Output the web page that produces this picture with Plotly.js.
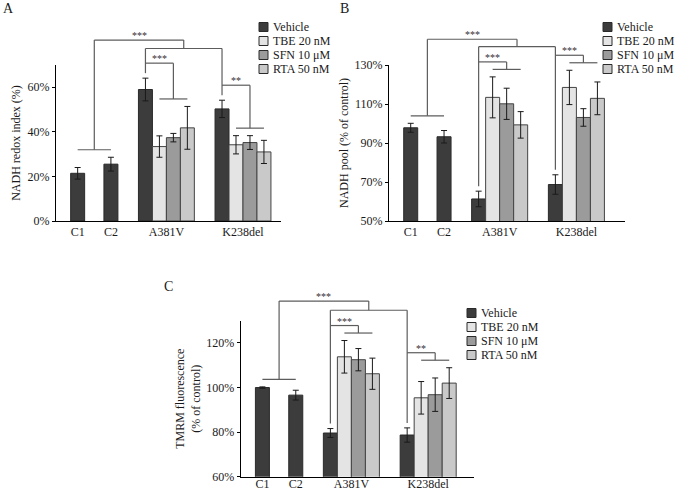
<!DOCTYPE html>
<html><head><meta charset="utf-8">
<script src="https://cdn.plot.ly/plotly-3.0.1.min.js"></script>
<style>html,body{margin:0;padding:0;background:#fff}</style>
</head><body><div id="chart" style="width:675px;height:493px"></div>
<script>
// ---------------- DATA ----------------
const groups = ['C1', 'C2', 'A381V', 'K238del'];
const treatments = ['Vehicle', 'TBE 20 nM', 'SFN 10 μM', 'RTA 50 nM'];

// Panel A – NADH redox index (%)
// vehicle: C1, C2, A381V, K238del ; treatments: A381V, K238del
const redoxVehicle    = [21.4, 25.5, 59.0, 50.3];
const redoxVehicleErr = [2.6, 3.1, 5.1, 3.9];
const redoxTBE        = [33.4, 34.2];
const redoxTBEErr     = [4.8, 4.1];
const redoxSFN        = [37.4, 35.2];
const redoxSFNErr     = [1.9, 3.1];
const redoxRTA        = [41.8, 31.0];
const redoxRTAErr     = [9.6, 5.2];
const redoxTicks      = [0, 20, 40, 60];

// Panel B – NADH pool (% of control)
const poolVehicle    = [97.8, 93.2, 61.3, 68.7];
const poolVehicleErr = [2.3, 3.2, 4.0, 5.0];
const poolTBE        = [113.4, 118.5];
const poolTBEErr     = [10.5, 8.8];
const poolSFN        = [110.1, 103.1];
const poolSFNErr     = [8.0, 4.5];
const poolRTA        = [99.3, 112.9];
const poolRTAErr     = [6.8, 8.4];
const poolTicks      = [50, 70, 90, 110, 130];

// Panel C – TMRM fluorescence (% of control)
const tmrmVehicle    = [100.0, 96.6, 79.6, 78.7];
const tmrmVehicleErr = [0.3, 2.2, 2.0, 3.2];
const tmrmTBE        = [113.8, 95.4];
const tmrmTBEErr     = [7.3, 7.3];
const tmrmSFN        = [112.5, 96.8];
const tmrmSFNErr     = [5.0, 7.5];
const tmrmRTA        = [106.2, 102.0];
const tmrmRTAErr     = [7.0, 6.9];
const tmrmTicks      = [60, 80, 100, 120];

// significance labels: [controls vs mutants, A381V vehicle vs treated, K238del vehicle vs treated]
const sigRedox = ['***', '***', '**'];
const sigPool  = ['***', '***', '***'];
const sigTmrm  = ['***', '***', '**'];

// ---------------- STYLE / LAYOUT ----------------
const W = 675, H = 493;
const FONT = 'Liberation Serif, "Times New Roman", serif';
const barColors = ['#3c3c3c', '#e4e4e4', '#9b9b9b', '#c9c9c9'];
const bracketColor = '#5c5c5c';
const groupPos = [1.55, 3.93, 6.4, 11.88];   // bar-centre slots (units of one bar width)

const panels = [
  { letter: 'A', ax: '', px: [56, 281], py: [65, 221], xmax: 16.1, yr: [0, 70], yticks: redoxTicks,
    title: 'NADH redox index (%)', standoff: 4, legend: [259, 27], letterPos: [8, 8], xlabOff: 0,
    top: 81.2, mid: 77.4, sig: sigRedox,
    veh: redoxVehicle, vehErr: redoxVehicleErr,
    trt: [[redoxTBE, redoxTBEErr], [redoxSFN, redoxSFNErr], [redoxRTA, redoxRTAErr]] },
  { letter: 'B', ax: '2', px: [389, 625], py: [65, 221], xmax: 16.85, yr: [50, 130], yticks: poolTicks,
    title: 'NADH pool (% of control)', standoff: 3, legend: [603, 27], letterPos: [344, 8], xlabOff: 0,
    top: 143.2, mid: 139.4, sig: sigPool,
    veh: poolVehicle, vehErr: poolVehicleErr,
    trt: [[poolTBE, poolTBEErr], [poolSFN, poolSFNErr], [poolRTA, poolRTAErr]] },
  { letter: 'C', ax: '3', px: [240.7, 474], py: [320.7, 476.7], xmax: 16.65, yr: [60, 130], yticks: tmrmTicks,
    title: 'TMRM fluorescence<br>(% of control)', standoff: 3, legend: [467, 313], letterPos: [168, 286], xlabOff: -4,
    top: 138.8, mid: 134.7, sig: sigTmrm,
    veh: tmrmVehicle, vehErr: tmrmVehicleErr,
    trt: [[tmrmTBE, tmrmTBEErr], [tmrmSFN, tmrmSFNErr], [tmrmRTA, tmrmRTAErr]] }
];

const traces = [];
const shapes = [];
const annotations = [];
const layout = {
  width: W, height: H,
  margin: { l: 0, r: 0, t: 0, b: 0 },
  paper_bgcolor: '#fff', plot_bgcolor: 'rgba(0,0,0,0)',
  font: { family: FONT, size: 12, color: '#1a1a1a' },
  barmode: 'overlay',
  showlegend: false
};

panels.forEach(p => {
  const xa = 'x' + p.ax, ya = 'y' + p.ax;
  const errStyle = (arr) => ({ type: 'data', array: arr, visible: true, color: '#1a1a1a', thickness: 1, width: 3 });
  // vehicle bars
  traces.push({
    type: 'bar', name: treatments[0], x: groupPos.slice(), y: p.veh, width: 1,
    xaxis: xa, yaxis: ya,
    marker: { color: barColors[0], line: { color: '#2a2a2a', width: 1 } },
    error_y: errStyle(p.vehErr), hoverinfo: 'y'
  });
  // treatment bars (mutant groups only)
  p.trt.forEach((t, k) => {
    traces.push({
      type: 'bar', name: treatments[k + 1],
      x: [groupPos[2] + k + 1, groupPos[3] + k + 1], y: t[0], width: 1,
      xaxis: xa, yaxis: ya,
      marker: { color: barColors[k + 1], line: { color: '#444', width: 1 } },
      error_y: errStyle(t[1]), hoverinfo: 'y'
    });
  });

  const dom = [p.px[0] / W, p.px[1] / W];
  const ydom = [1 - p.py[1] / H, 1 - p.py[0] / H];
  const tickCentres = [groupPos[0], groupPos[1], groupPos[2] + 1.5, groupPos[3] + 1.5];
  layout['xaxis' + p.ax] = {
    domain: dom, anchor: ya, range: [0, p.xmax], showline: true, linecolor: '#000', linewidth: 1,
    ticks: '', tickmode: 'array', tickvals: tickCentres, ticktext: groups, showgrid: false, zeroline: false,
    ticklabelstandoff: p.xlabOff,
    tickfont: { size: 12, family: FONT, color: '#1a1a1a' }, fixedrange: true
  };
  layout['yaxis' + p.ax] = {
    domain: ydom, anchor: xa, range: p.yr, showline: true, linecolor: '#000', linewidth: 1,
    ticks: 'outside', ticklen: 3, tickwidth: 1, tickcolor: '#000',
    tickmode: 'array', tickvals: p.yticks, ticktext: p.yticks.map(v => v + '%'),
    showgrid: false, zeroline: false, tickfont: { size: 12, family: FONT, color: '#1a1a1a' },
    title: { text: p.title, font: { size: 12, family: FONT, color: '#1a1a1a' }, standoff: p.standoff },
    fixedrange: true
  };

  // ---- significance brackets (computed from bar positions and error-bar tops) ----
  const plotH = p.py[1] - p.py[0];
  const ppx = (p.yr[1] - p.yr[0]) / plotH;       // data units per pixel
  const fx = x => x / p.xmax;
  const fy = y => (y - p.yr[0]) / (p.yr[1] - p.yr[0]);
  const line = (x0, y0, x1, y1) => shapes.push({
    type: 'line', xref: xa + ' domain', yref: ya + ' domain',
    x0: fx(x0), y0: fy(y0), x1: fx(x1), y1: fy(y1),
    line: { color: bracketColor, width: 1.2 }
  });
  const star = (x, y, txt) => annotations.push({
    xref: xa + ' domain', yref: ya + ' domain', x: fx(x), y: fy(y + 4.5 * ppx),
    text: txt, showarrow: false, xanchor: 'center', yanchor: 'middle',
    font: { size: 10, family: FONT, color: '#333' }
  });
  const vehTop = i => p.veh[i] + p.vehErr[i];
  const ctrlLow = Math.max(vehTop(0), vehTop(1)) + 7.5 * ppx;
  const xLeft = (groupPos[0] + groupPos[1]) / 2;
  const xRight = (groupPos[2] + groupPos[3]) / 2;
  line(groupPos[0], ctrlLow, groupPos[1], ctrlLow);
  line(xLeft, ctrlLow, xLeft, p.top);
  line(xLeft, p.top, xRight, p.top);
  line(xRight, p.top, xRight, p.mid);
  line(groupPos[2], p.mid, groupPos[3], p.mid);
  star((xLeft + xRight) / 2, p.top, p.sig[0]);
  [2, 3].forEach((g, gi) => {
    const xv = groupPos[g];
    const trtTops = p.trt.map(t => t[0][gi] + t[1][gi]);
    const upper = Math.max(vehTop(g), ...trtTops) + 15 * ppx;
    const lower = Math.max(...trtTops) + 7.5 * ppx;
    line(xv, p.mid, xv, vehTop(g) + 5 * ppx);
    line(xv, upper, xv + 2, upper);
    line(xv + 2, upper, xv + 2, lower);
    line(xv + 1, lower, xv + 3, lower);
    star((xv + xv + 2) / 2, upper, p.sig[gi + 1]);
  });

  // ---- legend (compact, as in the figure) ----
  treatments.forEach((name, i) => {
    const cy = p.legend[1] + 14 * i;
    shapes.push({
      type: 'rect', xref: 'paper', yref: 'paper',
      x0: p.legend[0] / W, x1: (p.legend[0] + 9) / W,
      y0: 1 - (cy - 4.5) / H, y1: 1 - (cy + 4.5) / H,
      fillcolor: barColors[i], line: { color: '#2a2a2a', width: 1 }
    });
    annotations.push({
      xref: 'paper', yref: 'paper', x: (p.legend[0] + 12) / W, y: 1 - cy / H,
      xanchor: 'left', yanchor: 'middle', text: name, showarrow: false,
      font: { size: 12, family: FONT, color: '#1a1a1a' }
    });
  });

  // ---- panel letter ----
  annotations.push({
    xref: 'paper', yref: 'paper', x: p.letterPos[0] / W, y: 1 - p.letterPos[1] / H,
    xanchor: 'center', yanchor: 'middle', text: p.letter, showarrow: false,
    font: { size: 14, family: FONT, color: '#1a1a1a' }
  });
});

layout.shapes = shapes;
layout.annotations = annotations;

Plotly.newPlot('chart', traces, layout, { displayModeBar: false, staticPlot: true });
</script>
</body></html>
